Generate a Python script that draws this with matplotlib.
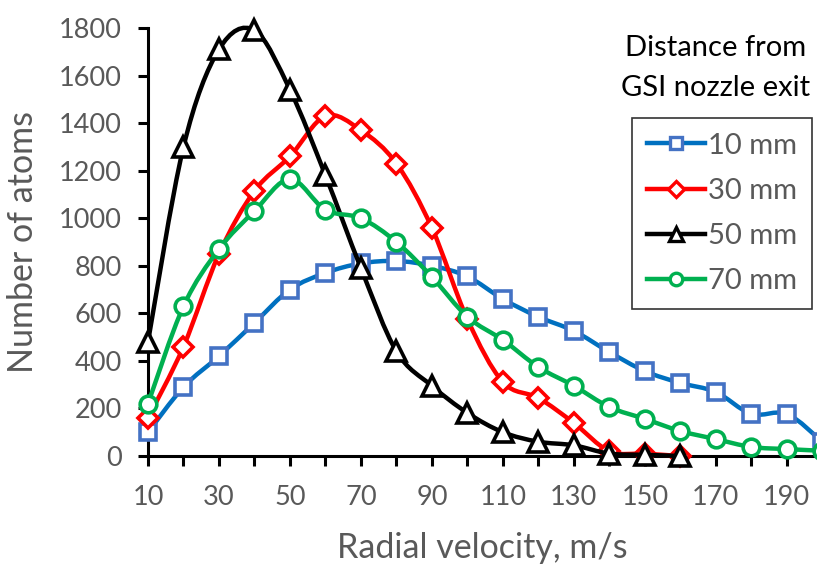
import numpy as np
import matplotlib
matplotlib.use("Agg")
from matplotlib import pyplot as plt
from matplotlib.path import Path
from matplotlib.patches import PathPatch
from matplotlib.lines import Line2D

plt.rcParams["font.family"] = ["Lato", "DejaVu Sans"]

velocity = [10, 20, 30, 40, 50, 60, 70, 80, 90, 100, 110, 120, 130, 140, 150,
            160, 170, 180, 190, 200]

atoms_10mm = [100, 290, 420, 560, 700, 770, 810, 820, 800, 755, 660, 585, 526,
              437, 357, 307, 269, 177, 177, 60]
atoms_30mm = [160, 460, 850, 1115, 1260, 1430, 1370, 1230, 959, 575, 311, 244,
              139, 20, 10, 0]
atoms_50mm = [480, 1300, 1710, 1790, 1540, 1180, 790, 440, 295, 181, 100, 60,
              45, 10, 5, 0]
atoms_70mm = [220, 630, 870, 1030, 1165, 1035, 1000, 900, 753, 585, 488, 374,
              295, 206, 156, 105, 71, 38, 29, 22]

labels = ["10 mm", "30 mm", "50 mm", "70 mm"]
GRAY = "#595959"


def smooth_path(x, y):
    # bezier segments through the points, like a spreadsheet "smoothed line"
    pts = np.column_stack([x, y]).astype(float)
    n = len(pts)
    verts = [pts[0]]
    codes = [Path.MOVETO]
    for i in range(n - 1):
        p0 = pts[i - 1] if i > 0 else pts[i]
        p1 = pts[i]
        p2 = pts[i + 1]
        p3 = pts[i + 2] if i + 2 < n else pts[i + 1]
        verts += [p1 + (p2 - p0) / 6, p2 - (p3 - p1) / 6, p2]
        codes += [Path.CURVE4] * 3
    return Path(verts, codes)


fig = plt.figure(figsize=(8.17, 5.65), dpi=100)
ax = fig.add_axes([148 / 817, 1 - 456 / 565, 669 / 817, 428 / 565])

series = [
    (atoms_10mm, "#0070C0", "#4472C4", "s", 11.5),
    (atoms_30mm, "#FF0000", "#FF0000", "D", 10.5),
    (atoms_50mm, "#000000", "#000000", "^", 14),
    (atoms_70mm, "#00B050", "#00B050", "o", 12),
]

handles = []
for k, (vals, lc, mc, mk, ms) in enumerate(series):
    xs = velocity[:len(vals)]
    ax.add_patch(PathPatch(smooth_path(xs, vals), facecolor="none",
                           edgecolor=lc, lw=3.2, clip_on=False, zorder=3 + 2 * k))
    ax.plot(xs, vals, linestyle="none", marker=mk, ms=ms, mfc="white",
            mec=mc, mew=2.6, clip_on=False, zorder=4 + 2 * k)
    handles.append(Line2D([], [], color=lc, lw=3.2, marker=mk, ms=ms * 0.75,
                          mfc="white", mec=mc, mew=2.4))

ax.set_xlim(10, 198.5)
ax.set_ylim(0, 1800)
ax.set_xticks(range(10, 200, 10))
ax.set_xticklabels([str(v) if v % 20 == 10 else "" for v in range(10, 200, 10)])
ax.set_yticks(range(0, 1801, 200))

for side in ["top", "right"]:
    ax.spines[side].set_visible(False)
for side in ["left", "bottom"]:
    ax.spines[side].set_linewidth(2.2)
ax.tick_params(axis="both", direction="out", length=7, width=2.2, colors="black",
               labelcolor=GRAY, labelsize=19.5, pad=12)
ax.tick_params(axis="x", pad=14)

ax.set_xlabel("Radial velocity, m/s", fontsize=24.5, color=GRAY, labelpad=16)
ax.set_ylabel("Number of atoms", fontsize=24.5, color=GRAY, labelpad=14)

fig.text(716 / 817, 1 - 48 / 565, "Distance from", ha="center", va="center",
         fontsize=21, color="black")
fig.text(716 / 817, 1 - 88 / 565, "GSI nozzle exit", ha="center", va="center",
         fontsize=21, color="black")

leg = ax.legend(handles, labels, loc="upper right",
                bbox_to_anchor=(812 / 817, 1 - 118 / 565),
                bbox_transform=fig.transFigure, borderaxespad=0,
                fontsize=21, frameon=True, fancybox=False, handlelength=2.0,
                handletextpad=0.1, labelspacing=0.66, borderpad=0.5,
                labelcolor=GRAY)
leg.get_frame().set_edgecolor("black")
leg.get_frame().set_linewidth(1.2)

fig.savefig("out.png", dpi=100)
